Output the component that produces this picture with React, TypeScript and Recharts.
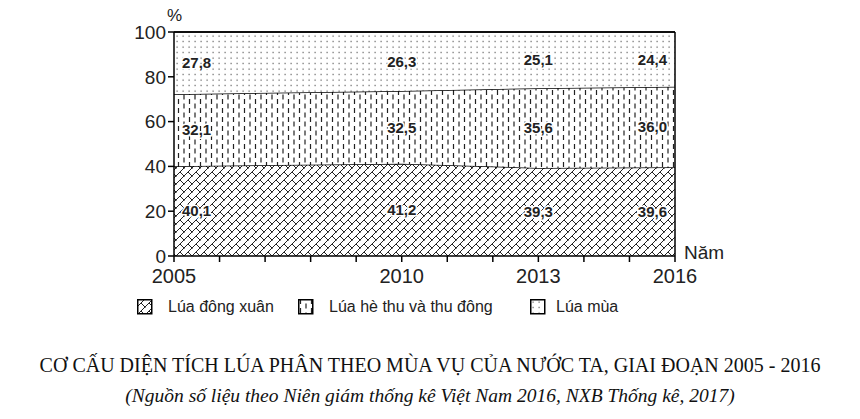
import { AreaChart, Area, XAxis, YAxis, LabelList, ReferenceLine } from 'recharts';

const years = [2005, 2010, 2013, 2016];
const dongXuan = [40.1, 41.2, 39.3, 39.6];
const heThu = [32.1, 32.5, 35.6, 36.0];
const luaMua = [27.8, 26.3, 25.1, 24.4];
const yearTicks = [2005, 2006, 2007, 2008, 2009, 2010, 2011, 2012, 2013, 2014, 2015, 2016];
const shownYears = [2005, 2010, 2013, 2016];
const yTicks = [0, 20, 40, 60, 80, 100];

const seriesNames = ['Lúa đông xuân', 'Lúa hè thu và thu đông', 'Lúa mùa'];

const data = years.map((y, i) => ({
  year: y,
  dx: dongXuan[i],
  ht: heThu[i],
  lm: luaMua[i],
}));

const W = 860;
const H = 300;
const M = { top: 32, right: 185, bottom: 0, left: 0 };
const X_H = 44;
const PLOT_H = H - M.top - M.bottom - X_H;
const SANS = '"Liberation Sans", Arial, sans-serif';
const SERIF = '"Liberation Serif", "Times New Roman", serif';

// label drawn in the middle of its band
function bandLabel(props: any) {
  const { x, y, value, index } = props;
  if (value == null) return null;
  const mid = y + (value / 100) * PLOT_H / 2;
  const last = data.length - 1;
  const anchor = index === 0 ? 'start' : index === last ? 'end' : 'middle';
  const tx = index === 0 ? x + 8 : index === last ? x - 8 : x;
  return (
    <text
      x={tx}
      y={mid}
      dy='0.35em'
      textAnchor={anchor}
      fontSize={15}
      fontWeight='bold'
      fill='#222'
      stroke='#fff'
      strokeWidth={3}
      paintOrder='stroke'
      fontFamily={SANS}
    >
      {String(value.toFixed(1)).replace('.', ',')}
    </text>
  );
}

function Patterns() {
  return (
    <defs>
      <pattern id='pCross' width={8} height={8} patternUnits='userSpaceOnUse'>
        <rect width={8} height={8} fill='#fff' />
        <path d='M0,8 L8,0 M-2,2 L2,-2 M6,10 L10,6' stroke='#222' strokeWidth={1} />
        <path d='M4,4 L8,8 M0,0 L0.5,0.5' stroke='#222' strokeWidth={1} />
      </pattern>
      <pattern id='pDash' width={11} height={9} patternUnits='userSpaceOnUse'>
        <rect width={11} height={9} fill='#fff' />
        <path d='M2.5,0 L2.5,5 M8,4.5 L8,9 M8,0 L8,0.5' stroke='#222' strokeWidth={1.2} />
      </pattern>
      <pattern id='pDots' width={6} height={5.5} patternUnits='userSpaceOnUse'>
        <rect width={6} height={5.5} fill='#fff' />
        <rect x={2.5} y={2.5} width={1.2} height={1.2} fill='#555' />
      </pattern>
    </defs>
  );
}

const fills = ['url(#pCross)', 'url(#pDash)', 'url(#pDots)'];

export default function App() {
  return (
    <div style={{ position: 'absolute', left: 0, top: 0, width: W, height: 419, background: '#fff', fontFamily: SANS }}>
      <AreaChart width={W} height={H} data={data} margin={M}>
        <Patterns />
        <XAxis
          dataKey='year'
          type='number'
          domain={[2005, 2016]}
          ticks={yearTicks}
          interval={0}
          height={X_H}
          tickSize={6}
          tickMargin={7}
          tickFormatter={(v: number) => (shownYears.includes(v) ? String(v) : '')}
          tick={{ fontSize: 20, fill: '#222', fontFamily: SANS }}
          axisLine={{ stroke: '#000', strokeWidth: 1.5 }}
          tickLine={{ stroke: '#000', strokeWidth: 1.5 }}
        />
        <YAxis
          type='number'
          domain={[0, 100]}
          ticks={yTicks}
          width={174}
          tickSize={6}
          tickMargin={2}
          tick={{ fontSize: 19, fill: '#222', fontFamily: SANS }}
          axisLine={{ stroke: '#000', strokeWidth: 1.5 }}
          tickLine={{ stroke: '#000', strokeWidth: 1.5 }}
        />
        <Area dataKey='dx' stackId='a' type='linear' fill={fills[0]} fillOpacity={1} stroke='#000' strokeWidth={1.5} isAnimationActive={false}>
          <LabelList dataKey='dx' content={bandLabel} />
        </Area>
        <Area dataKey='ht' stackId='a' type='linear' fill={fills[1]} fillOpacity={1} stroke='#000' strokeWidth={1.5} isAnimationActive={false}>
          <LabelList dataKey='ht' content={bandLabel} />
        </Area>
        <Area dataKey='lm' stackId='a' type='linear' fill={fills[2]} fillOpacity={1} stroke='#000' strokeWidth={1.5} isAnimationActive={false}>
          <LabelList dataKey='lm' content={bandLabel} />
        </Area>
        <ReferenceLine x={2016} stroke='#000' strokeWidth={1.5} />
        <ReferenceLine y={100} stroke='#000' strokeWidth={1.5} />
      </AreaChart>

      <div style={{ position: 'absolute', left: 167, top: 7, fontSize: 17, lineHeight: '17px', color: '#222' }}>%</div>
      <div style={{ position: 'absolute', left: 684, top: 243, fontSize: 19, lineHeight: '19px', color: '#222' }}>Năm</div>

      {[137, 298, 530].map((lx, i) => (
        <div key={i} style={{ position: 'absolute', left: lx, top: 298, display: 'flex', alignItems: 'center' }}>
          <svg width={16} height={16}>
            <rect x={0.75} y={0.75} width={14} height={14} fill={fills[i]} stroke='#000' strokeWidth={1.5} />
          </svg>
          <span style={{ marginLeft: i === 2 ? 10 : 15, fontSize: 16, color: '#222' }}>{seriesNames[i]}</span>
        </div>
      ))}

      <div style={{ position: 'absolute', left: 0, width: W, top: 355, textAlign: 'center', fontFamily: SERIF, fontSize: 20, lineHeight: '20px', color: '#111' }}>
        CƠ CẤU DIỆN TÍCH LÚA PHÂN THEO MÙA VỤ CỦA NƯỚC TA, GIAI ĐOẠN 2005 - 2016
      </div>
      <div style={{ position: 'absolute', left: 0, width: W, top: 386, textAlign: 'center', fontFamily: SERIF, fontStyle: 'italic', fontSize: 19.5, lineHeight: '20px', color: '#111' }}>
        (Nguồn số liệu theo Niên giám thống kê Việt Nam 2016, NXB Thống kê, 2017)
      </div>
    </div>
  );
}
